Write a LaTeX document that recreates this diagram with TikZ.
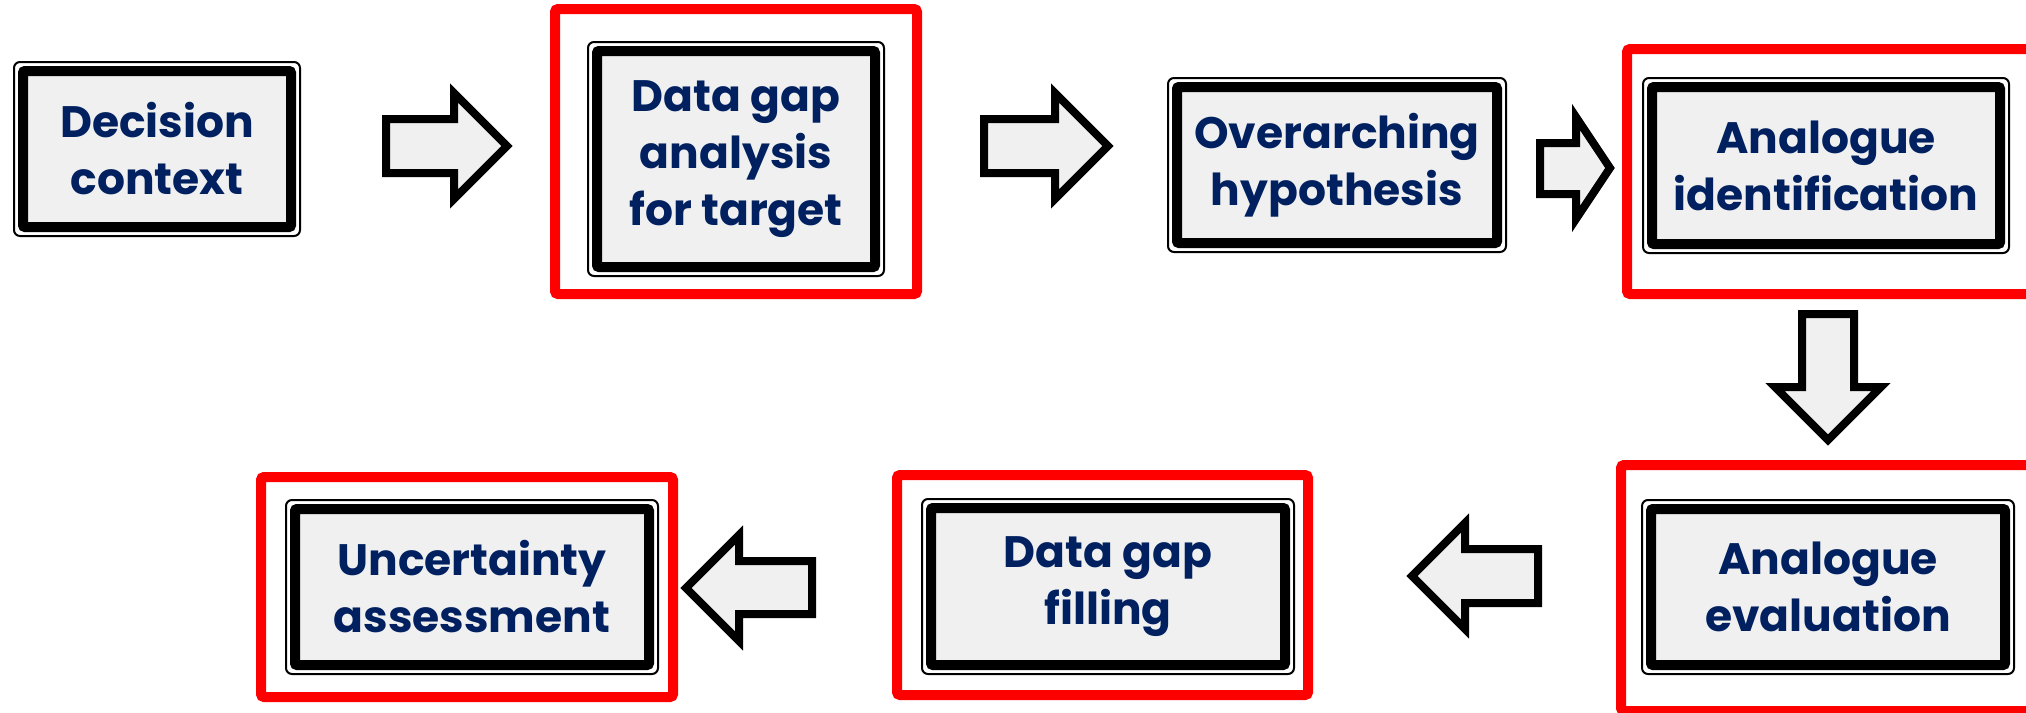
\documentclass[tikz,border=0pt]{standalone}
\usepackage{fontspec}
\setmainfont{Poppins}
\definecolor{txt}{HTML}{002060}
\definecolor{boxfill}{HTML}{F0F0F0}
\begin{document}
\begin{tikzpicture}[x=1pt,y=-1pt,
  stepbox/.style={draw=black, line width=10pt, fill=boxfill, rounded corners=2pt,
    inner sep=0pt, outer sep=0pt, align=center, text=txt,
    font=\fontsize{44}{57}\selectfont\bfseries},
  ring/.style={draw=black, line width=2pt, rounded corners=6pt},
  redframe/.style={draw=red, line width=10pt, rounded corners=3pt},
  blockarrow/.style={draw=black, line width=8pt, fill=boxfill, line join=miter}]
\useasboundingbox (0,0) rectangle (2026,712);
\clip (0,0) rectangle (2026,712);

% red frames
\draw[redframe] (555,9) rectangle (917,294);
\draw[redframe] (1627,49) rectangle (2045,294);
\draw[redframe] (1621,465) rectangle (2045,711);
\draw[redframe] (897,475) rectangle (1308,695);
\draw[redframe] (261,477) rectangle (673,697);

% step boxes
\node[stepbox, minimum width=268pt, minimum height=156pt] (dc) at (157,149) {Decision\\context};
\node[stepbox, minimum width=278pt, minimum height=216pt] (dga) at (736,159) {Data gap\\analysis\\for target};
\node[stepbox, minimum width=320pt, minimum height=156pt] (oh) at (1337,165) {Overarching\\hypothesis};
\node[stepbox, minimum width=348pt, minimum height=157pt] (aid) at (1826,165.5) {Analogue\\identification};
\node[stepbox, minimum width=354pt, minimum height=156pt] (aev) at (1828,587) {Analogue\\evaluation};
\node[stepbox, minimum width=354pt, minimum height=157pt] (dgf) at (1108,586.5) {Data gap\\filling};
\node[stepbox, minimum width=354pt, minimum height=156pt] (ua) at (472,587) {Uncertainty\\assessment};

\foreach \n in {dc,dga,oh,aid,aev,dgf,ua}
  \draw[ring] ([xshift=-9pt,yshift=9pt]\n.north west) rectangle ([xshift=9pt,yshift=-9pt]\n.south east);

% block arrows
\draw[blockarrow] (386,119) -- (454,119) -- (454,93) -- (507,146) -- (454,199) -- (454,173) -- (386,173) -- cycle;
\draw[blockarrow] (984,119) -- (1055,119) -- (1055,93) -- (1108,146) -- (1055,199) -- (1055,173) -- (984,173) -- cycle;
\draw[blockarrow] (1540,143) -- (1576,143) -- (1576,117) -- (1610,168) -- (1576,219) -- (1576,194) -- (1540,194) -- cycle;
\draw[blockarrow] (1802,314) -- (1854,314) -- (1854,387) -- (1881,387) -- (1828,440) -- (1775,387) -- (1802,387) -- cycle;
\draw[blockarrow] (1538,549) -- (1465,549) -- (1465,523) -- (1412,576) -- (1465,629) -- (1465,603) -- (1538,603) -- cycle;
\draw[blockarrow] (812,561) -- (739,561) -- (739,535) -- (686,588) -- (739,641) -- (739,614) -- (812,614) -- cycle;
\end{tikzpicture}
\end{document}
